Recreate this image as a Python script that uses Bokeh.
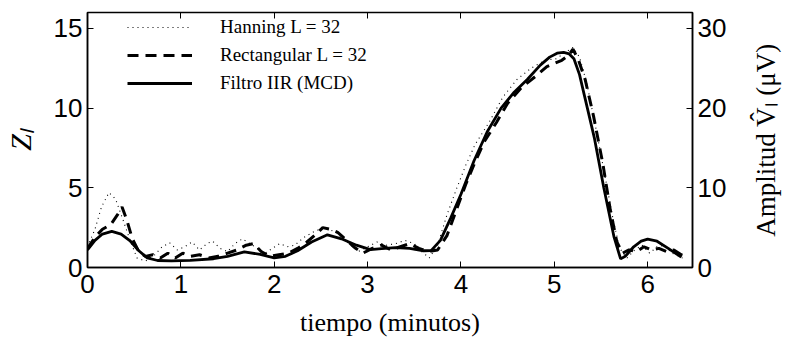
import math
from bokeh.plotting import figure
from bokeh.layouts import row
from bokeh.models import Range1d, LinearAxis, Legend, LegendItem, FixedTicker
from bokeh.embed import file_html
from bokeh.resources import INLINE

# ---- data (Z_l, left axis units) ----
t_iir = [0.00, 0.08, 0.16, 0.26, 0.36, 0.46, 0.55, 0.64, 0.75, 0.90,
         1.10, 1.35, 1.50, 1.68, 1.85, 2.00, 2.12, 2.25, 2.40, 2.57,
         2.72, 2.88, 3.03, 3.15, 3.30, 3.45, 3.60, 3.68, 3.78, 3.89,
         4.00, 4.14, 4.28, 4.43, 4.57, 4.71, 4.85, 4.95, 5.03, 5.10,
         5.16, 5.21, 5.27, 5.32, 5.43, 5.53, 5.64, 5.71, 5.76, 5.85,
         5.93, 6.00, 6.10, 6.22, 6.36]
z_iir = [1.10, 1.70, 2.10, 2.27, 2.10, 1.65, 1.05, 0.60, 0.44, 0.42,
         0.45, 0.55, 0.70, 0.98, 0.82, 0.60, 0.70, 1.05, 1.60, 2.05,
         1.80, 1.40, 1.12, 1.18, 1.25, 1.20, 1.05, 1.06, 1.70, 3.10,
         4.60, 6.70, 8.50, 10.0, 11.0, 11.8, 12.7, 13.2, 13.45, 13.5,
         13.4, 13.1, 12.1, 10.85, 8.1, 5.0, 1.9, 0.54, 0.70, 1.30,
         1.65, 1.78, 1.65, 1.20, 0.65]

t_han = [0.00, 0.08, 0.15, 0.23, 0.30, 0.38, 0.45, 0.53, 0.62, 0.72,
         0.80, 0.88, 0.96, 1.04, 1.12, 1.20, 1.28, 1.34, 1.42, 1.50,
         1.58, 1.66, 1.74, 1.82, 1.90, 1.98, 2.06, 2.14, 2.22, 2.32,
         2.44, 2.55, 2.66, 2.78, 2.90, 3.00, 3.10, 3.20, 3.30, 3.40,
         3.50, 3.58, 3.66, 3.75, 3.85, 3.95, 4.05, 4.15, 4.30, 4.45,
         4.60, 4.75, 4.90, 5.02, 5.12, 5.20, 5.27, 5.35, 5.45, 5.55,
         5.63, 5.70, 5.78, 5.86, 5.94, 6.02, 6.10, 6.18, 6.26, 6.34,
         6.40]
z_han = [1.3, 2.4, 3.8, 4.7, 4.3, 3.0, 1.8, 0.6, 0.4, 0.8,
         1.3, 1.55, 1.1, 1.3, 1.6, 1.1, 1.5, 1.65, 1.2, 1.0,
         1.5, 1.8, 1.5, 1.2, 0.9, 1.2, 1.5, 1.3, 1.4, 1.9,
         2.3, 2.5, 2.2, 1.6, 1.0, 1.3, 1.6, 1.4, 1.5, 1.7,
         1.5, 1.0, 0.6, 1.4, 3.3, 4.9, 6.4, 7.7, 9.1, 10.7,
         11.8, 12.5, 13.0, 13.1, 13.5, 13.8, 13.2, 11.5, 8.6, 5.5,
         3.0, 1.2, 0.6, 1.1, 1.4, 0.9, 1.3, 1.4, 0.9, 0.7,
         0.5]

t_rec = [0.00, 0.08, 0.16, 0.25, 0.32, 0.37, 0.42, 0.48, 0.55, 0.62,
         0.70, 0.78, 0.86, 0.94, 1.02, 1.10, 1.20, 1.30, 1.40, 1.50,
         1.60, 1.70, 1.78, 1.86, 1.95, 2.05, 2.15, 2.25, 2.35, 2.45,
         2.52, 2.60, 2.68, 2.76, 2.85, 2.95, 3.05, 3.15, 3.25, 3.35,
         3.45, 3.55, 3.65, 3.75, 3.85, 3.95, 4.05, 4.15, 4.25, 4.38,
         4.50, 4.65, 4.80, 4.92, 5.00, 5.08, 5.15, 5.20, 5.26, 5.33,
         5.42, 5.52, 5.60, 5.67, 5.73, 5.80, 5.88, 5.96, 6.04, 6.12,
         6.20, 6.28, 6.36, 6.42]
z_rec = [1.2, 1.9, 2.4, 2.7, 3.3, 3.8, 3.0, 1.8, 1.0, 0.7,
         0.8, 0.6, 0.9, 0.6, 0.9, 0.7, 0.8, 0.6, 0.7, 0.9,
         1.1, 1.4, 1.5, 1.0, 0.7, 0.8, 0.9, 1.2, 1.6, 2.1,
         2.5, 2.4, 2.2, 1.8, 1.3, 0.9, 1.2, 1.4, 1.1, 1.3,
         1.5, 1.2, 1.0, 1.1, 2.0, 3.6, 5.2, 6.6, 7.9, 9.1,
         10.3, 11.3, 12.0, 12.6, 12.8, 13.0, 13.3, 13.7, 13.0, 11.8,
         9.5, 6.5, 3.6, 1.6, 0.9, 1.1, 1.0, 1.3, 1.1, 1.2,
         1.0, 1.1, 0.8, 0.7]

x_ticks = [0, 1, 2, 3, 4, 5, 6]
zl_ticks = [0, 5, 10, 15]
amp_ticks = [0, 10, 20, 30]

labels = ["Hanning L = 32", "Rectangular L = 32", "Filtro IIR (MCD)"]
right_title = "Amplitud V\u0302\u2097 (\u03bcV)"

p = figure(width=732, height=344, x_range=Range1d(0, 6.48), y_range=Range1d(0, 16),
           output_backend="svg", toolbar_location=None,
           min_border_left=87, min_border_right=40, min_border_top=12, min_border_bottom=77)
p.extra_y_ranges = {"amp": Range1d(0, 32)}
p.xgrid.visible = False
p.ygrid.visible = False
p.outline_line_color = "black"
p.outline_line_width = 1.5
p.outline_line_alpha = 1.0
p.background_fill_color = "white"
p.border_fill_color = "white"

bottom = p.below[0]
left = p.left[0]

r_han = p.line(t_han, z_han, line_color="black", line_width=1.1, line_dash="1 4")
r_rec = p.line(t_rec, z_rec, line_color="black", line_width=3, line_dash="11 7")
r_iir = p.line(t_iir, z_iir, line_color="black", line_width=2.8)

right = LinearAxis(y_range_name="amp", ticker=FixedTicker(ticks=amp_ticks))
p.add_layout(right, "right")
top = LinearAxis(ticker=FixedTicker(ticks=x_ticks))
p.add_layout(top, "above")

bottom.ticker = FixedTicker(ticks=x_ticks)
left.ticker = FixedTicker(ticks=zl_ticks)

for ax in [bottom, left, right, top]:
    ax.major_tick_in = 6
    ax.major_tick_out = 0
    ax.minor_tick_line_color = None
    ax.major_tick_line_color = "black"
    ax.major_tick_line_width = 1
    ax.axis_line_width = 1.5
    ax.axis_line_color = "black"
    ax.major_label_text_color = "black"
    ax.major_label_text_font = "Liberation Sans"
    ax.major_label_text_font_size = "26px"
    ax.axis_label_text_color = "black"

top.axis_line_color = None
top.major_label_overrides = {t: "" for t in x_ticks}
top.major_label_text_font_size = "4px"
top.major_label_standoff = 0

bottom.major_label_standoff = 7
left.major_label_standoff = 5
right.major_label_standoff = 5

bottom.axis_label = "tiempo (minutos)"
bottom.axis_label_text_font = "Liberation Serif"
bottom.axis_label_text_font_style = "normal"
bottom.axis_label_text_font_size = "26px"
bottom.axis_label_standoff = 12

left.axis_label = "Z\u2097"
left.axis_label_text_font = "Liberation Serif"
left.axis_label_text_font_style = "italic"
left.axis_label_text_font_size = "30px"
left.axis_label_standoff = 14

legend = Legend(items=[LegendItem(label=labels[0], renderers=[r_han]),
                       LegendItem(label=labels[1], renderers=[r_rec]),
                       LegendItem(label=labels[2], renderers=[r_iir])],
                location=(40, 173), padding=0, margin=0, spacing=6,
                glyph_height=22, glyph_width=65, label_height=22, label_standoff=28,
                background_fill_alpha=0, border_line_color=None,
                label_text_font="Liberation Serif", label_text_font_size="19px",
                label_text_color="black")
p.add_layout(legend)

# narrow side panel carrying the right-hand title (reads bottom to top)
q = figure(width=54, height=344, x_range=Range1d(0, 1), y_range=Range1d(0, 1),
           output_backend="svg", toolbar_location=None,
           min_border_left=50, min_border_right=0, min_border_top=12, min_border_bottom=77)
q.outline_line_color = None
q.xgrid.visible = False
q.ygrid.visible = False
q.below[0].visible = False
q.background_fill_color = "white"
q.border_fill_color = "white"
qa = q.left[0]
qa.ticker = FixedTicker(ticks=[])
qa.axis_line_color = None
qa.major_tick_line_color = None
qa.minor_tick_line_color = None
qa.major_label_text_font_size = "0px"
qa.major_label_standoff = 0
qa.axis_label = right_title
qa.axis_label_text_font = "Liberation Serif"
qa.axis_label_text_font_style = "normal"
qa.axis_label_text_font_size = "27px"
qa.axis_label_text_color = "black"
qa.axis_label_standoff = 2

layout = row(p, q, spacing=0)
open("out.html", "w").write(file_html(layout, INLINE))
